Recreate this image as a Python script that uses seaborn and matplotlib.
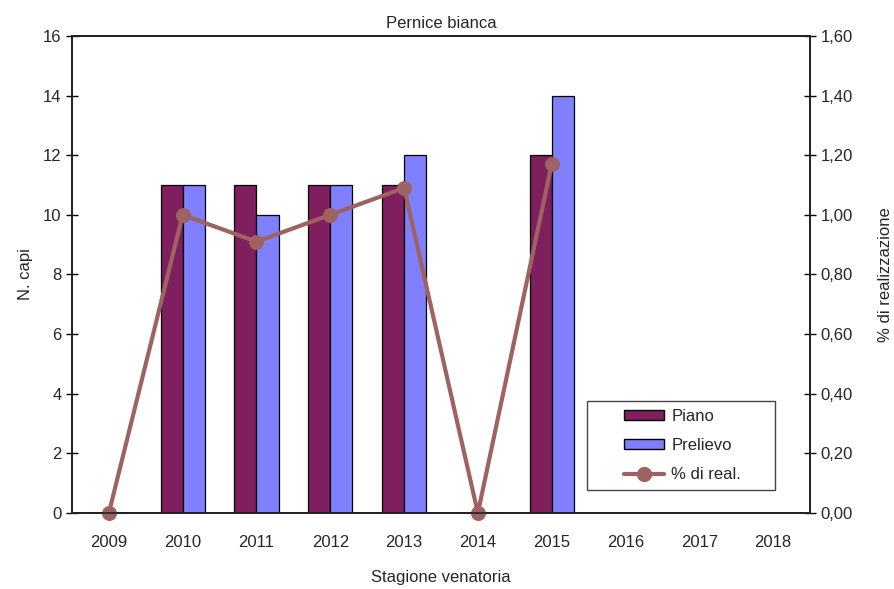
import numpy as np
import pandas as pd
import matplotlib
matplotlib.use("Agg")
import matplotlib.pyplot as plt
import seaborn as sns
from matplotlib.ticker import FuncFormatter, FixedLocator
from matplotlib.lines import Line2D
from matplotlib.patches import Patch, Rectangle

# data
years = ["2009", "2010", "2011", "2012", "2013", "2014", "2015", "2016", "2017", "2018"]
piano = [0, 11, 11, 11, 11, 0, 12, np.nan, np.nan, np.nan]
prelievo = [0, 11, 10, 11, 12, 0, 14, np.nan, np.nan, np.nan]
pct_real = [0.0, 1.00, 0.91, 1.00, 1.09, 0.0, 1.17]

c_piano = "#801F5E"
c_prel = "#8080FF"
c_line = "#9E6262"

sns.set_theme(style="white")
plt.rcParams["font.family"] = ["Liberation Sans", "DejaVu Sans"]

df = pd.DataFrame({"anno": years, "Piano": piano, "Prelievo": prelievo})
long_df = df.melt(id_vars="anno", var_name="serie", value_name="capi")

fig = plt.figure(figsize=(8.94, 5.89), dpi=100)
ax = fig.add_axes([0.0805, 0.129, 0.8255, 0.81])

sns.barplot(data=long_df, x="anno", y="capi", hue="serie", order=years,
            palette=[c_piano, c_prel], saturation=1, width=0.6, edgecolor="black",
            linewidth=0.9, ax=ax, legend=False)

fs = 12
ax.set_xlim(-0.5, len(years) - 0.5)
ax.set_ylim(0, 16)
ax.set_yticks(range(0, 17, 2))
ax.set_xlabel("Stagione venatoria", fontsize=fs, labelpad=14)
ax.set_ylabel("N. capi", fontsize=fs, labelpad=7)
ax.set_title("Pernice bianca", fontsize=fs, pad=6)

# category boundaries get the tick marks, labels stay centred
ax.xaxis.set_minor_locator(FixedLocator(np.arange(-0.5, len(years), 1)))
ax.tick_params(axis="x", which="major", length=0, labelsize=fs, pad=16)
ax.tick_params(axis="x", which="minor", length=8, width=1, direction="inout", color="black")
ax.tick_params(axis="y", length=8, width=1, direction="inout", labelsize=fs, color="black",
               left=True)
for s in ax.spines.values():
    s.set_color("black")
    s.set_linewidth(1.3)

ax2 = ax.twinx()
sns.lineplot(x=np.arange(len(pct_real)), y=pct_real, color=c_line, linewidth=3,
             marker="o", markersize=10, markeredgecolor=c_line, ax=ax2, clip_on=False)
ax2.set_ylim(0, 1.6)
ax2.set_yticks(np.arange(0, 1.61, 0.2))
ax2.yaxis.set_major_formatter(FuncFormatter(lambda v, p: f"{v:.2f}".replace(".", ",")))
ax2.tick_params(axis="y", length=8, width=1, direction="inout", labelsize=fs, color="black",
                right=True)
ax2.set_ylabel("% di realizzazione", fontsize=fs, rotation=90)
ax2.yaxis.set_label_coords(1.092, 0.5)
ax2.set_xlim(-0.5, len(years) - 0.5)

# legend box drawn separately so the entries can sit inset like the original
ax2.add_patch(Rectangle((0.698, 0.048), 0.255, 0.187, transform=ax2.transAxes,
                        facecolor="white", edgecolor="#444444", linewidth=1, zorder=4))
handles = [
    Patch(facecolor=c_piano, edgecolor="black", label="Piano"),
    Patch(facecolor=c_prel, edgecolor="black", label="Prelievo"),
    Line2D([0], [0], color=c_line, linewidth=3, marker="o", markersize=10, label="% di real."),
]
leg = ax2.legend(handles=handles, loc="upper left", bbox_to_anchor=(0.748, 0.218),
                 fontsize=fs, frameon=False, borderpad=0, borderaxespad=0,
                 labelspacing=0.84, handlelength=2.4, handleheight=0.5, handletextpad=0.45)
leg.set_zorder(5)

fig.savefig("out.png", dpi=100)
